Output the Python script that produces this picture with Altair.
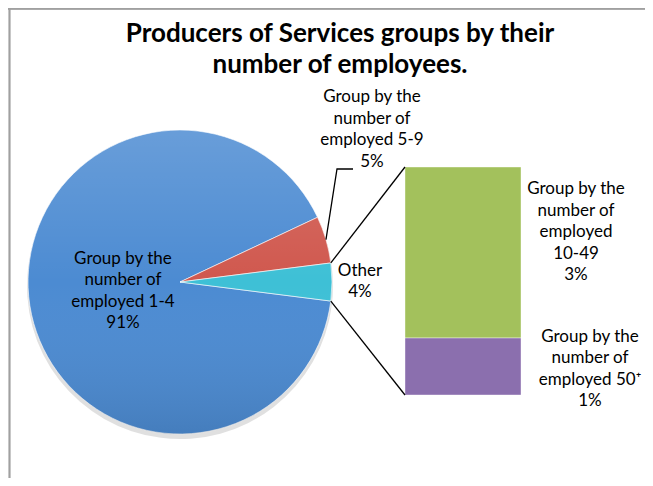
import math
import altair as alt
import pandas as pd

# ---------------- data ----------------
title_lines = ["Producers of Services groups by their", "number of employees."]

pie_groups = ["Group by the number of employed 1-4",
              "Group by the number of employed 5-9",
              "Other"]
pie_values = [91, 5, 4]
pie_labels = ["Group by the\nnumber of\nemployed 1-4\n91%",
              "Group by the\nnumber of\nemployed 5-9\n5%",
              "Other\n4%"]

bar_groups = ["Group by the number of employed 10-49",
              "Group by the number of employed 50\u207a"]
bar_values = [3, 1]
bar_labels = ["Group by the\nnumber of\nemployed\n10-49\n3%",
              "Group by the\nnumber of\nemployed 50\u207a\n1%"]

all_groups = pie_groups + bar_groups
colors = ["#4c8bd2", "#d0584e", "#3ec0d6", "#a3c15c", "#8b6fae"]

# ---------------- layout ----------------
W, H = 637, 470
CX, CY, R = 172, 274, 152
BAR_X0, BAR_X1, BAR_TOP, BAR_BOTTOM = 397, 513, 159, 387
FONT = "Lato"
LH = 21.5

pie_total = sum(pie_values)
bar_total = sum(bar_values)
# the "Other" slice is centred on the right-hand side (3 o'clock)
offset = math.pi / 2 + math.pi * pie_values[2] / pie_total
cum = [0]
for v in pie_values:
    cum.append(cum[-1] + v)
ang = [offset + 2 * math.pi * c / pie_total for c in cum]


def pie_pt(a, r=R):
    return CX + r * math.sin(a), CY - r * math.cos(a)


def bar_y(v):
    return BAR_BOTTOM - v / bar_total * (BAR_BOTTOM - BAR_TOP)


color_scale = alt.Scale(domain=all_groups, range=colors)
theta_scale = alt.Scale(domain=[0, pie_total], range=[offset, offset + 2 * math.pi])

# ---------------- pie ----------------
pie_df = pd.DataFrame({"group": pie_groups, "value": pie_values, "order": [0, 1, 2]})
total_df = pd.DataFrame({"value": [pie_total]})

shadow = alt.Chart(total_df).mark_arc(radius=R + 1, fill="#000000", opacity=0.12).encode(
    theta=alt.Theta("value:Q", stack=True, scale=theta_scale),
    x=alt.value(CX), y=alt.value(CY + 4),
)

pie = alt.Chart(pie_df).mark_arc(radius=R, stroke="white", strokeWidth=1, strokeOpacity=0.6).encode(
    theta=alt.Theta("value:Q", stack=True, scale=theta_scale),
    order=alt.Order("order:Q"),
    color=alt.Color("group:N", scale=color_scale, legend=None),
    x=alt.value(CX), y=alt.value(CY),
)

gloss = alt.Chart(total_df).mark_arc(
    radius=R,
    fill=alt.LinearGradient(
        gradient="linear", x1=0, x2=0, y1=0, y2=1,
        stops=[alt.GradientStop(color="rgba(255,255,255,0.16)", offset=0),
               alt.GradientStop(color="rgba(255,255,255,0.0)", offset=0.5),
               alt.GradientStop(color="rgba(0,0,0,0.10)", offset=1)]),
).encode(
    theta=alt.Theta("value:Q", stack=True, scale=theta_scale),
    x=alt.value(CX), y=alt.value(CY),
)

# ---------------- bar of "Other" ----------------
bar_df = pd.DataFrame({"group": bar_groups, "value": bar_values, "order": [1, 0]})
bar = alt.Chart(bar_df).transform_stack(
    stack="value", groupby=[], as_=["y0", "y1"], sort=[alt.SortField("order")]
).mark_rect(stroke="#ffffff", strokeWidth=0.8, strokeOpacity=0.5).encode(
    x=alt.value(BAR_X0), x2=alt.value(BAR_X1),
    y=alt.Y("y0:Q", axis=None,
            scale=alt.Scale(domain=[0, bar_total], range=[BAR_BOTTOM, BAR_TOP])),
    y2="y1:Q",
    color=alt.Color("group:N", scale=color_scale, legend=None),
)

# ---------------- connector lines ----------------
up = pie_pt(ang[2])
lo = pie_pt(ang[3])
conn_df = pd.DataFrame({
    "x": [up[0], lo[0]], "y": [up[1], lo[1]],
    "x2": [BAR_X0, BAR_X0], "y2": [bar_y(bar_total), bar_y(0)],
})
conn = alt.Chart(conn_df).mark_rule(color="black", strokeWidth=1.3).encode(
    x=alt.X("x:Q", scale=None, axis=None), y=alt.Y("y:Q", scale=None, axis=None),
    x2="x2:Q", y2="y2:Q",
)

# leader line for the 5-9 slice
red_mid = (ang[1] + ang[2]) / 2
rp = pie_pt(red_mid)
lead_df = pd.DataFrame({"x": [rp[0], 329, 345], "y": [rp[1], 161, 161], "i": [0, 1, 2]})
lead = alt.Chart(lead_df).mark_line(color="black", strokeWidth=1.3).encode(
    x=alt.X("x:Q", scale=None, axis=None), y=alt.Y("y:Q", scale=None, axis=None),
    order="i:Q",
)

# ---------------- labels ----------------
blue_mid = (ang[0] + ang[1]) / 2
bl = pie_pt(blue_mid, 0.38 * R)
texts = pie_labels + bar_labels
centres = [bl, (364, 121.5), (352, 273.5), (568, 224), (582, 361)]
lab_df = pd.DataFrame({
    "x": [c[0] for c in centres],
    "y": [c[1] - (t.count("\n")) * LH / 2 for c, t in zip(centres, texts)],
    "t": texts,
})
labels = alt.Chart(lab_df).mark_text(
    font=FONT, fontSize=17, color="#000000", lineBreak="\n", lineHeight=LH,
    align="center", baseline="middle",
).encode(
    x=alt.X("x:Q", scale=None, axis=None), y=alt.Y("y:Q", scale=None, axis=None),
    text="t:N",
)

title_df = pd.DataFrame({"x": [332], "y": [26], "t": ["\n".join(title_lines)]})
title = alt.Chart(title_df).mark_text(
    font=FONT, fontSize=26, fontWeight="bold", color="#000000", lineBreak="\n",
    lineHeight=31, align="center", baseline="middle",
).encode(
    x=alt.X("x:Q", scale=None, axis=None), y=alt.Y("y:Q", scale=None, axis=None),
    text="t:N",
)

# chart frame (only the top and left edges are inside the picture)
frame_left = alt.Chart(pie_df).mark_rule(color="#a0a0a0", strokeWidth=1.5).encode(
    x=alt.value(1.5), y=alt.value(0), y2=alt.value(H))
frame_top = alt.Chart(pie_df).mark_rule(color="#a0a0a0", strokeWidth=1.5).encode(
    x=alt.value(0), x2=alt.value(W), y=alt.value(0.75))

chart = alt.layer(
    frame_left, frame_top, shadow, pie, gloss, bar, conn, lead, labels, title
).resolve_scale(
    x="independent", y="independent"
).properties(
    width=W, height=H, autosize=alt.AutoSizeParams(type="none"), padding=0,
).configure_view(stroke=None)

chart.save("out.html", embed_options={"renderer": "svg", "actions": False})
